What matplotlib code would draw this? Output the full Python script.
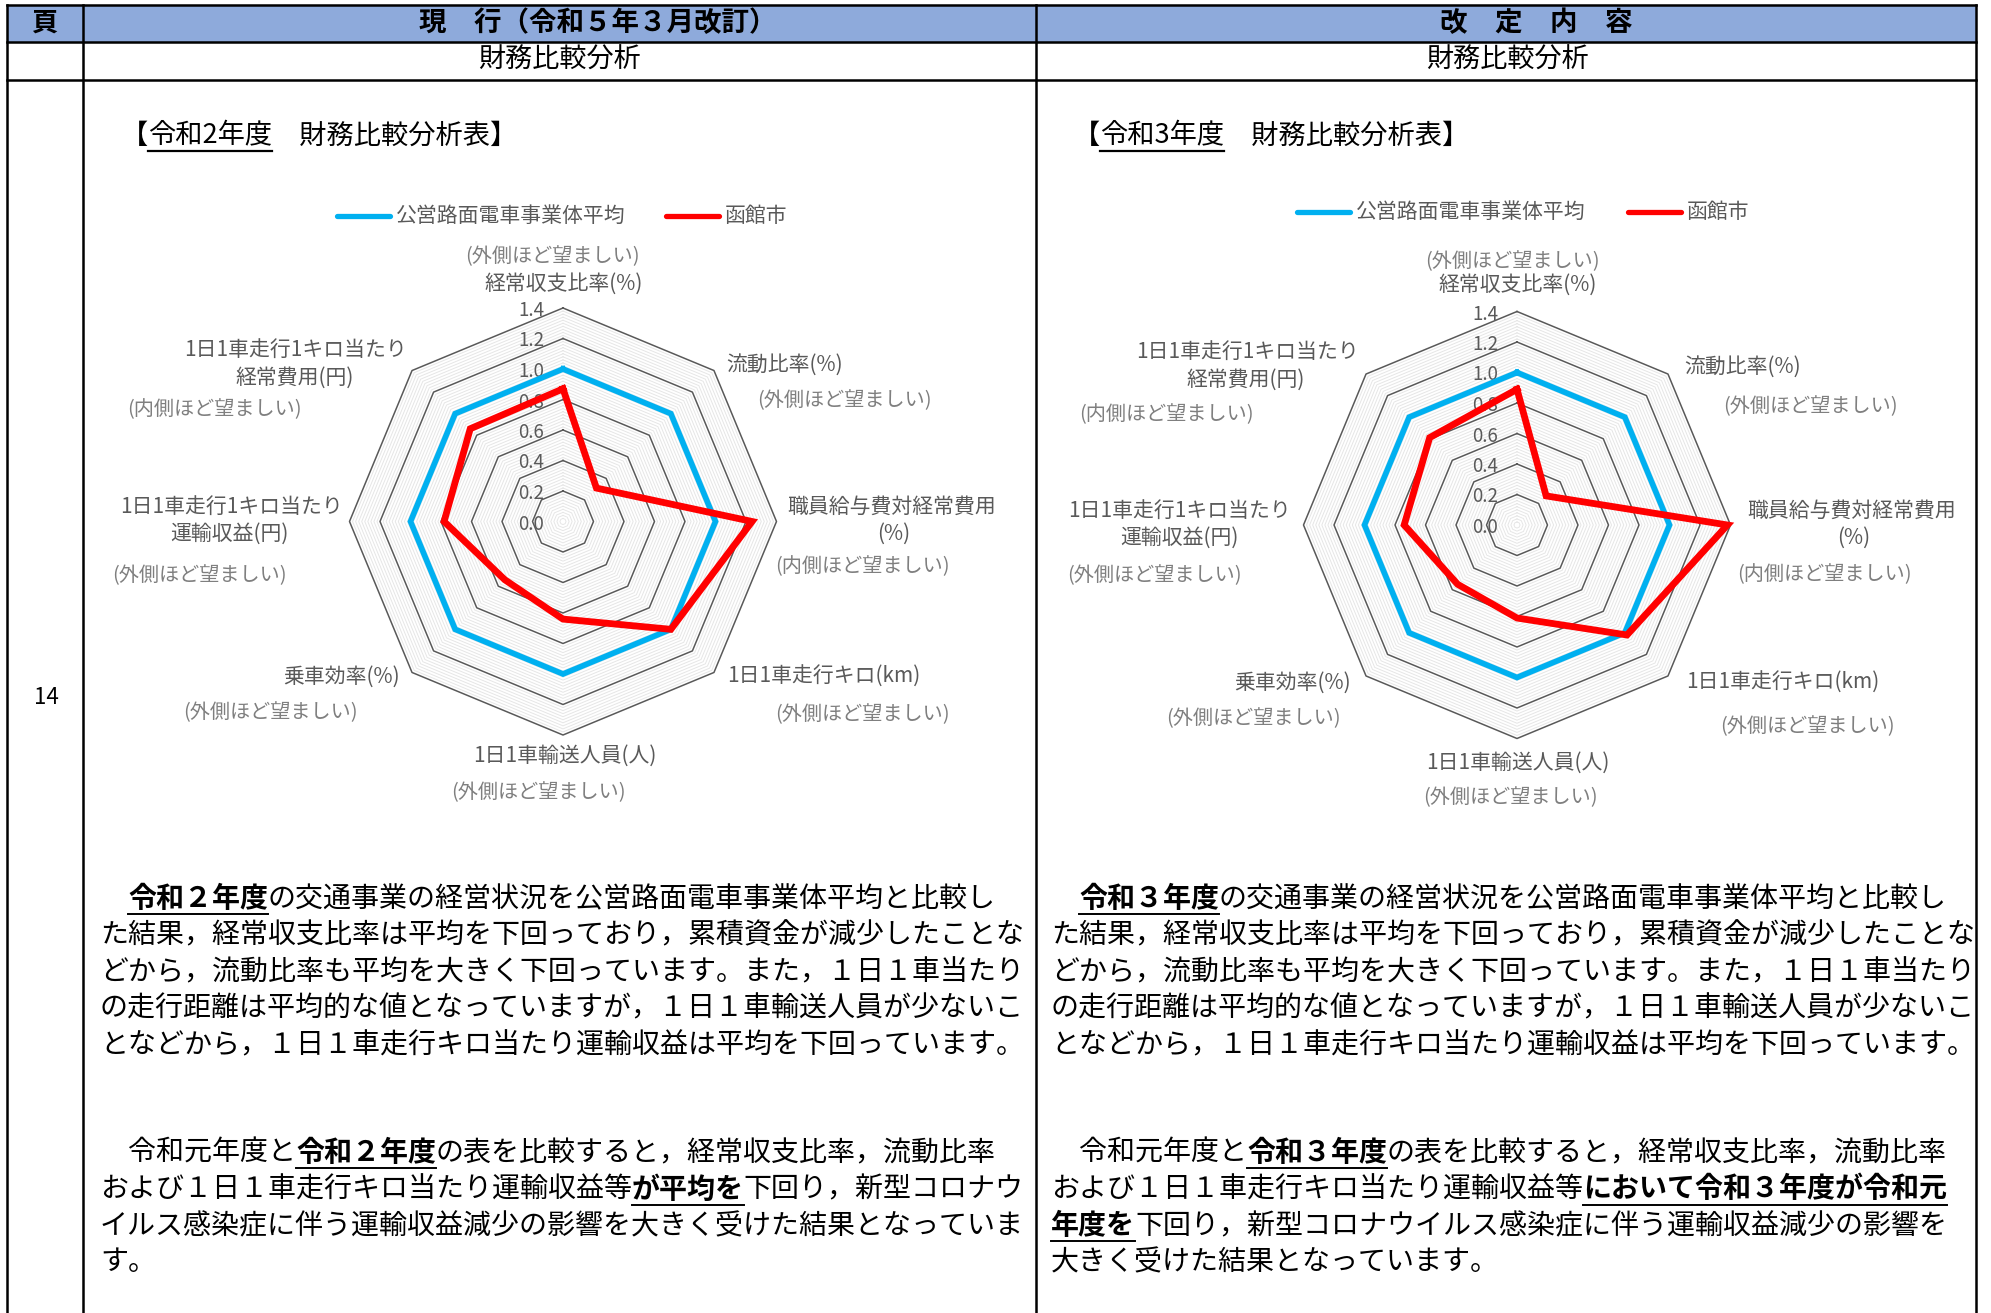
import numpy as np
import matplotlib.pyplot as plt
from matplotlib.transforms import offset_copy
from matplotlib.font_manager import FontProperties, findfont, get_font

plt.rcParams['font.family'] = ['Noto Sans CJK JP', 'DejaVu Sans']

W, H = 1991, 1313

# ---- chart data ----
categories = ['経常収支比率(%)', '流動比率(%)', '職員給与費対経常費用(%)', '1日1車走行キロ(km)',
              '1日1車輸送人員(人)', '乗車効率(%)', '1日1車走行1キロ当たり運輸収益(円)',
              '1日1車走行1キロ当たり経常費用(円)']
label_lines = [['経常収支比率(%)'], ['流動比率(%)'], ['職員給与費対経常費用', '(%)'],
               ['1日1車走行キロ(km)'], ['1日1車輸送人員(人)'], ['乗車効率(%)'],
               ['1日1車走行1キロ当たり', '運輸収益(円)'], ['1日1車走行1キロ当たり', '経常費用(円)']]
preference = ['(外側ほど望ましい)', '(外側ほど望ましい)', '(内側ほど望ましい)', '(外側ほど望ましい)',
              '(外側ほど望ましい)', '(外側ほど望ましい)', '(外側ほど望ましい)', '(内側ほど望ましい)']
series_names = ['公営路面電車事業体平均', '函館市']
avg_values = [1.0, 1.0, 1.0, 1.0, 1.0, 1.0, 1.0, 1.0]
hakodate_r2 = [0.87, 0.31, 1.24, 1.00, 0.64, 0.54, 0.78, 0.86]
hakodate_r3 = [0.89, 0.27, 1.38, 1.02, 0.61, 0.55, 0.74, 0.81]
major_ticks = [0.0, 0.2, 0.4, 0.6, 0.8, 1.0, 1.2, 1.4]

# ---- body text (segments: text, emphasised) ----
para_l1 = [
    [('　', 0), ('令和２年度', 1), ('の交通事業の経営状況を公営路面電車事業体平均と比較し', 0)],
    [('た結果，経常収支比率は平均を下回っており，累積資金が減少したことな', 0)],
    [('どから，流動比率も平均を大きく下回っています。また，１日１車当たり', 0)],
    [('の走行距離は平均的な値となっていますが，１日１車輸送人員が少ないこ', 0)],
    [('となどから，１日１車走行キロ当たり運輸収益は平均を下回っています。', 0)],
]
para_l2 = [
    [('　令和元年度と', 0), ('令和２年度', 1), ('の表を比較すると，経常収支比率，流動比率', 0)],
    [('および１日１車走行キロ当たり運輸収益等', 0), ('が平均を', 1), ('下回り，新型コロナウ', 0)],
    [('イルス感染症に伴う運輸収益減少の影響を大きく受けた結果となっていま', 0)],
    [('す。', 0)],
]
para_r1 = [
    [('　', 0), ('令和３年度', 1), ('の交通事業の経営状況を公営路面電車事業体平均と比較し', 0)],
    [('た結果，経常収支比率は平均を下回っており，累積資金が減少したことな', 0)],
    [('どから，流動比率も平均を大きく下回っています。また，１日１車当たり', 0)],
    [('の走行距離は平均的な値となっていますが，１日１車輸送人員が少ないこ', 0)],
    [('となどから，１日１車走行キロ当たり運輸収益は平均を下回っています。', 0)],
]
para_r2 = [
    [('　令和元年度と', 0), ('令和３年度', 1), ('の表を比較すると，経常収支比率，流動比率', 0)],
    [('および１日１車走行キロ当たり運輸収益等', 0), ('において令和３年度が令和元', 1)],
    [('年度を', 1), ('下回り，新型コロナウイルス感染症に伴う運輸収益減少の影響を', 0)],
    [('大きく受けた結果となっています。', 0)],
]

# label layout (pixel positions) for each chart
left_main = [[(564, 284)], [(785, 365)], [(892, 507), (894, 534)], [(824, 677)], [(565, 756)],
             [(342, 677)], [(231, 507), (229, 534)], [(295, 350), (295, 378)]]
left_sub = [(552, 257), (844, 401), (862, 567), (862, 715), (538, 793), (270, 713), (199, 576), (214, 410)]
right_main = [[(1518, 285)], [(1743, 367)], [(1852, 511), (1854, 538)], [(1783, 683)], [(1518, 763)],
              [(1293, 683)], [(1180, 511), (1179, 538)], [(1247, 352), (1246, 380)]]
right_sub = [(1512, 262), (1810, 407), (1824, 575), (1807, 727), (1510, 798), (1253, 719), (1154, 576), (1166, 415)]

GRAY = '#595959'
SUB_GRAY = '#7F7F7F'
BLUE = '#00B0F0'
RED = '#FF0000'


def advance(s, fs, weight='normal'):
    f = get_font(findfont(FontProperties(family='Noto Sans CJK JP', weight=weight)))
    f.set_size(fs, 100)
    return sum(f.load_char(ord(c)).linearHoriAdvance for c in s) / 65536


fig = plt.figure(figsize=(W / 100, H / 100), dpi=100)
bg = fig.add_axes([0, 0, 1, 1])
bg.set_xlim(0, W)
bg.set_ylim(H, 0)
bg.axis('off')

# ---- table frame ----
x_left, x_col, x_mid, x_right = 7, 83, 1036, 1976
y_top, y_head, y_sub = 4.5, 41.5, 79.5
bg.add_patch(plt.Rectangle((x_left, y_top), x_right - x_left, y_head - y_top,
                           facecolor='#8EAADB', edgecolor='none', zorder=0))
for y in (y_top, y_head, y_sub):
    bg.plot([x_left, x_right], [y, y], color='black', lw=1.8, zorder=2)
for x in (x_left, x_col, x_mid, x_right):
    bg.plot([x, x], [y_top, H], color='black', lw=1.8, zorder=2)

bg.text(45, 23, '頁', fontsize=19, fontweight='bold', ha='center', va='center')
bg.text(598, 23, '現　行（令和５年３月改訂）', fontsize=19.8, fontweight='bold', ha='center', va='center')
bg.text(1536, 23, '改　定　内　容', fontsize=19.8, fontweight='bold', ha='center', va='center')
bg.text(559, 60, '財務比較分析', fontsize=19.5, ha='center', va='center')
bg.text(1507, 60, '財務比較分析', fontsize=19.5, ha='center', va='center')
bg.text(46, 698, '14', fontsize=16, ha='center', va='center')


def title(x, y, year):
    fs = 19.6
    em = fs * 100 / 72
    bg.text(x, y, '【', fontsize=fs, ha='left', va='center')
    x1 = x + em
    bg.text(x1, y, year, fontsize=fs, ha='left', va='center')
    w = advance(year, fs)
    bg.plot([x1, x1 + w], [y + 15, y + 15], color='black', lw=1.6)
    bg.text(x1 + w, y, '　財務比較分析表】', fontsize=fs, ha='left', va='center')


def legend(bx, rx, y):
    bg.plot([bx, bx + 53], [y, y], color=BLUE, lw=3.8, solid_capstyle='round')
    bg.text(bx + 59, y, series_names[0], fontsize=15, color=GRAY, ha='left', va='center')
    bg.plot([rx, rx + 53], [y, y], color=RED, lw=3.8, solid_capstyle='round')
    bg.text(rx + 59, y, series_names[1], fontsize=15, color=GRAY, ha='left', va='center')


def radar(cx, cy, values, main_pos, sub_pos):
    R = 213.5
    ax = fig.add_axes([(cx - R) / W, 1 - (cy + R) / H, 2 * R / W, 2 * R / H], projection='polar')
    ax.set_theta_zero_location('N')
    ax.set_theta_direction(-1)
    ax.set_ylim(0, 1.4)
    ax.set_axis_off()
    n = len(categories)
    theta = np.linspace(0, 2 * np.pi, n + 1)
    for i in range(1, 70):
        if i % 10:
            ax.plot(theta, [i * 0.02] * (n + 1), color='#E6E6E6', lw=0.7, zorder=1, clip_on=False)
    for r in major_ticks[1:]:
        ax.plot(theta, [r] * (n + 1), color=GRAY, lw=1.1, zorder=2, clip_on=False)
    off = offset_copy(ax.transData, fig=fig, x=-19, y=0, units='dots')
    for r in major_ticks:
        ax.text(0, r, f'{r:.1f}', transform=off, ha='right', va='center_baseline',
                fontsize=13.5, color=GRAY, zorder=3)
    ax.plot(theta, avg_values + avg_values[:1], color=BLUE, lw=4.1, zorder=4,
            solid_joinstyle='miter', clip_on=False)
    ax.plot(theta, values + values[:1], color=RED, lw=4.9, zorder=5,
            solid_joinstyle='miter', clip_on=False)
    for lines, pos, pref, sp in zip(label_lines, main_pos, preference, sub_pos):
        for s, (x, y) in zip(lines, pos):
            bg.text(x, y, s, fontsize=15, color=GRAY, ha='center', va='center')
        bg.text(sp[0], sp[1], pref, fontsize=14.5, color=SUB_GRAY, ha='center', va='center')


def paragraph(x0, ys, lines):
    fs = 20.16
    for y, segs in zip(ys, lines):
        x = x0
        for s, strong in segs:
            wt = 'bold' if strong else 'normal'
            bg.text(x, y, s, fontsize=fs, fontweight=wt, ha='left', va='center', color='black')
            w = advance(s, fs, wt)
            if strong:
                bg.plot([x, x + w], [y + 15, y + 15], color='black', lw=1.4)
            x += w


title(121, 136, '令和2年度')
title(1073, 136, '令和3年度')
legend(337, 666, 216)
legend(1297, 1628, 212)
radar(563, 521.5, hakodate_r2, left_main, left_sub)
radar(1517, 525, hakodate_r3, right_main, right_sub)

ys1 = [899, 935.5, 972, 1008, 1045]
ys2 = [1153, 1189.5, 1226, 1262]
paragraph(100, ys1, para_l1)
paragraph(100, ys2, para_l2)
paragraph(1051, ys1, para_r1)
paragraph(1051, ys2, para_r2)

fig.savefig('out.png', dpi=100)
